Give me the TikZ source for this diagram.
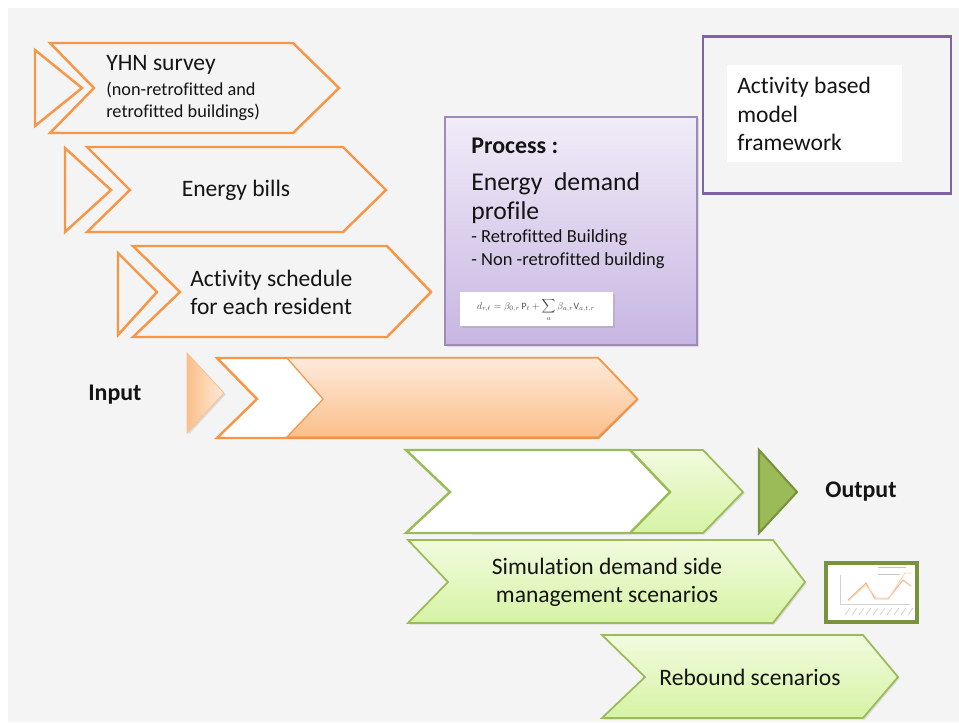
\documentclass[tikz,border=0pt]{standalone}
\usepackage{fontspec}
\setmainfont{Carlito}[Ligatures=NoCommon]
\usetikzlibrary{shadows}

\definecolor{pageback}{HTML}{F4F4F4}
\definecolor{inorange}{HTML}{F79646}
\definecolor{orangelight}{HTML}{FDEADB}
\definecolor{orangedeep}{HTML}{FBBF8A}
\definecolor{outgreen}{HTML}{9BBB59}
\definecolor{greendark}{HTML}{77933C}
\definecolor{greenlight}{HTML}{F1FBDF}
\definecolor{greenmid}{HTML}{D6F3A4}
\definecolor{procline}{HTML}{9D8BBB}
\definecolor{proctop}{HTML}{F1ECF8}
\definecolor{procbottom}{HTML}{C7B6E2}
\definecolor{framepurple}{HTML}{8064A2}
\definecolor{inktext}{HTML}{141414}

\tikzset{
  inchev/.style={draw=inorange, line width=1.4pt},
  outchev/.style={draw=outgreen, line width=1pt},
  greenfill/.style={top color=greenlight, bottom color=greenmid},
  softshadow/.style={drop shadow={opacity=0.22, shadow xshift=0.9pt, shadow yshift=-0.9pt}},
  txt/.style={font=\fontsize{13.4}{16}\selectfont, text=inktext, inner sep=0pt},
  smalltxt/.style={font=\fontsize{10.4}{12.6}\selectfont, text=inktext, inner sep=0pt},
  boldtxt/.style={font=\fontsize{13.6}{16}\selectfont\bfseries, text=inktext, inner sep=0pt},
}

\begin{document}
\begin{tikzpicture}[x=0.2mm, y=-0.2mm]
    \useasboundingbox (0,0) rectangle (959,722);
    \fill[white] (0,0) rectangle (959,722);
    \fill[pageback] (8,8) rectangle (959,722);

    % Input chevrons
    \draw[inchev] (35,50) -- (82,88) -- (35,126) -- cycle;
    \draw[inchev] (50,43) -- (293,43) -- (339,88) -- (293,133) -- (50,133) -- (94,88) -- cycle;
    \draw[inchev] (65,148) -- (111,190) -- (65,232) -- cycle;
    \draw[inchev] (87,147) -- (343,147) -- (386,190) -- (343,232) -- (87,232) -- (130,190) -- cycle;
    \draw[inchev] (118,253) -- (157,292) -- (118,335) -- cycle;
    \draw[inchev] (133,246) -- (387,246) -- (431,292) -- (387,337) -- (133,337) -- (180,292) -- cycle;

    % Input bar
    \path[left color=orangedeep, right color=orangelight, draw=inorange!60, line width=0.5pt, softshadow]
        (187,353) -- (224,393) -- (187,433) -- cycle;
    \draw[inchev, fill=white] (217,358) -- (598,358) -- (637,399) -- (598,438) -- (217,438) -- (257,399) -- cycle;
    \path[top color=orangelight, bottom color=orangedeep, draw=inorange, line width=0.7pt, softshadow]
        (287,358) -- (598,358) -- (637,399) -- (598,437) -- (287,437) -- (323,399) -- cycle;

    % Output bar
    \path[greenfill, draw=outgreen, line width=1pt, softshadow]
        (470,450) -- (703,450) -- (743,492) -- (703,533) -- (470,533) -- (510,492) -- cycle;
    \draw[outchev, line width=1.4pt, fill=white] (406,450) -- (630,450) -- (670,492) -- (630,533) -- (406,533) -- (450,492) -- cycle;
    \draw[fill=outgreen, draw=greendark, line width=1.2pt] (759,450) -- (797,492) -- (759,533) -- cycle;

    % Output chevrons
    \path[greenfill, draw=outgreen, line width=1pt, softshadow]
        (408,540) -- (773,540) -- (805,582) -- (773,623) -- (408,623) -- (448,582) -- cycle;
    \path[greenfill, draw=outgreen, line width=1pt, softshadow]
        (602,635) -- (863,635) -- (898,677) -- (863,718) -- (602,718) -- (645,677) -- cycle;

    % Chart thumbnail
    \draw[greendark, line width=1.8pt, fill=white] (826,563) rectangle (917,622);
    \draw[gray!35, line width=0.3pt] (840,575) -- (840,604) -- (910,604);
    \foreach \t in {0,...,9} {
        \draw[gray!45, line width=0.3pt] ({845+7*\t},615) -- ({850+7*\t},608);
    }
    \draw[gray!45, line width=0.3pt] (878,567) -- (906,567);
    \draw[gray!45, line width=0.3pt] (878,574) -- (900,574);
    \draw[inorange!70!brown!70, line width=0.5pt] (848,600) -- (866,583) -- (875,599) -- (888,599) -- (903,580) -- (911,586);
    \draw[inorange!45, line width=0.5pt] (848,601) -- (866,585) -- (876,598) -- (889,598) -- (905,573) -- (912,573);

    % Process box
    \path[top color=proctop, bottom color=procbottom, draw=procline, line width=0.6pt, softshadow]
        (445,117) rectangle (697,345);
    \path[fill=white, softshadow] (460,292) rectangle (613,326);

    % Framework box
    \draw[framepurple, line width=1.7pt] (703,36) rectangle (951,193);
    \fill[white] (727,65) rectangle (902,162);

    % Labels
    \node[txt, anchor=west] (yhn) at (106,65) {YHN survey};
    \node[smalltxt, anchor=west, align=left] (yhnsub) at (106,101) {(non-retrofitted and\\retrofitted buildings)};
    \node[txt] (bills) at (236,190) {Energy bills};
    \node[txt, anchor=west, align=left] (sched) at (190,292) {Activity schedule\\for each resident};
    \node[boldtxt, anchor=west] (input) at (88,395) {Input};
    \node[boldtxt, anchor=west] (output) at (825,492) {Output};
    \node[txt, align=center] (dsm) at (607,582) {Simulation demand side\\management scenarios};
    \node[txt] (rebound) at (750,677) {Rebound scenarios};

    \node[boldtxt, anchor=west] (ptitle) at (471,146) {Process :};
    \node[anchor=west, align=left, inner sep=0pt, text=inktext, font=\fontsize{14.6}{16.5}\selectfont] (pprofile) at (471,198) {Energy\ \ demand\\profile};
    \node[anchor=west, align=left, inner sep=0pt, text=inktext, font=\fontsize{10.5}{13}\selectfont] (pkinds) at (471,249) {- Retrofitted Building\\- Non -retrofitted building};
    \node[inner sep=0pt, text=black!70] (formula) at (536,310)
        {\scalebox{0.55}{$d_{r,t}=\beta_{0,r}\,\mathrm{P}_t+\displaystyle\sum_{a}\beta_{a,r}\mathrm{V}_{a,t,r}$}};

    \node[txt, anchor=west, align=left] (frame) at (737,114) {Activity based\\model\\framework};
\end{tikzpicture}
\end{document}
